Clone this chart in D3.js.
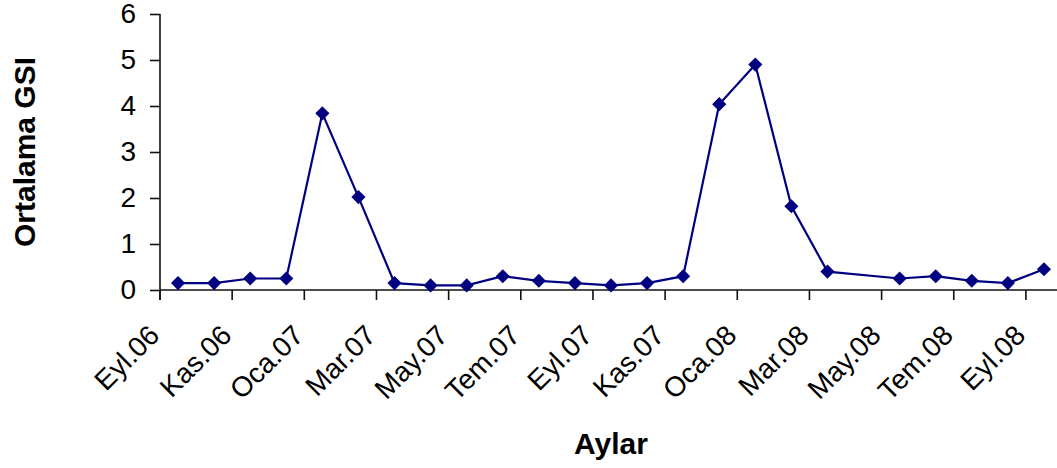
<!DOCTYPE html>
<html>
<head>
<meta charset="utf-8">
<script src="https://cdn.jsdelivr.net/npm/d3@7"></script>
<style>
  body { margin: 0; background: #fff; }
  text { font-family: "Liberation Sans", Arial, sans-serif; fill: #000; }
</style>
</head>
<body>
<div id="chart"></div>
<script>
// months (category axis), one value per month, Nis.08 has no sample
var months = ["Eyl.06", "Eki.06", "Kas.06", "Ara.06", "Oca.07", "Şub.07", "Mar.07", "Nis.07",
              "May.07", "Haz.07", "Tem.07", "Ağu.07", "Eyl.07", "Eki.07", "Kas.07", "Ara.07",
              "Oca.08", "Şub.08", "Mar.08", "Nis.08", "May.08", "Haz.08", "Tem.08", "Ağu.08", "Eyl.08"];
var gsiValues = [0.15, 0.15, 0.25, 0.25, 3.84, 2.02, 0.15, 0.1,
                 0.1, 0.3, 0.2, 0.15, 0.1, 0.15, 0.3, 4.04,
                 4.9, 1.82, 0.4, null, 0.25, 0.3, 0.2, 0.15, 0.45];
var yTicks = [0, 1, 2, 3, 4, 5, 6];
var xTitle = "Aylar";
var yTitle = "Ortalama GSI";

var width = 1057, height = 468;
var margin = {left: 160, top: 14, bottom: 290, right: 1062};

var svg = d3.select("#chart").append("svg")
    .attr("width", width)
    .attr("height", height);

// set the ranges
var x = d3.scaleBand().domain(months).range([margin.left, margin.right]).padding(0);
var y = d3.scaleLinear().domain([0, 6]).range([margin.bottom, margin.top]);

var data = months.map(function(m, i) { return {month: m, value: gsiValues[i]}; })
    .filter(function(d) { return d.value !== null; });

// y axis
var yAxis = svg.append("g")
    .attr("transform", "translate(" + margin.left + ",0)")
    .call(d3.axisLeft(y).tickValues(yTicks).tickFormat(d3.format("d")).tickSize(10).tickPadding(14));
yAxis.select(".domain").attr("d", "M0," + margin.top + "V" + (margin.bottom + 10));
yAxis.selectAll("line, path").attr("stroke", "#111").attr("stroke-width", 1.6);
yAxis.selectAll("text").style("font-size", "28px").attr("fill", "#000");

// x axis: ticks between categories, every second one
var tickMonths = months.filter(function(m, i) { return i % 2 === 0; });
var xg = svg.append("g");
xg.append("line")
    .attr("x1", margin.left).attr("x2", width)
    .attr("y1", margin.bottom).attr("y2", margin.bottom)
    .attr("stroke", "#111").attr("stroke-width", 1.6);
xg.selectAll(".tick")
    .data(tickMonths)
  .enter().append("line")
    .attr("x1", function(d) { return x(d); })
    .attr("x2", function(d) { return x(d); })
    .attr("y1", margin.bottom).attr("y2", margin.bottom + 10)
    .attr("stroke", "#111").attr("stroke-width", 1.6);
xg.selectAll(".label")
    .data(tickMonths)
  .enter().append("text")
    .attr("transform", function(d) { return "translate(" + (x(d) + 1) + "," + (margin.bottom + 47) + ") rotate(-45)"; })
    .attr("text-anchor", "end")
    .style("font-size", "28px")
    .text(function(d) { return d; });

// the line
var valueline = d3.line()
    .x(function(d) { return x(d.month) + x.bandwidth() / 2; })
    .y(function(d) { return y(d.value); });

svg.append("path")
    .datum(data)
    .attr("fill", "none")
    .attr("stroke", "#000080")
    .attr("stroke-width", 2.2)
    .attr("d", valueline);

// diamond markers
svg.selectAll(".marker")
    .data(data)
  .enter().append("path")
    .attr("d", d3.symbol().type(d3.symbolSquare).size(100))
    .attr("transform", function(d) {
        return "translate(" + (x(d.month) + x.bandwidth() / 2) + "," + y(d.value) + ") rotate(45)";
    })
    .attr("fill", "#000080");

// axis titles
svg.append("text")
    .attr("x", (margin.left + margin.right) / 2)
    .attr("y", 454)
    .attr("text-anchor", "middle")
    .style("font-size", "30px")
    .style("font-weight", "bold")
    .text(xTitle);

svg.append("text")
    .attr("transform", "translate(35," + (margin.top + margin.bottom) / 2 + ") rotate(-90)")
    .attr("text-anchor", "middle")
    .style("font-size", "30px")
    .style("font-weight", "bold")
    .text(yTitle);
</script>
</body>
</html>
